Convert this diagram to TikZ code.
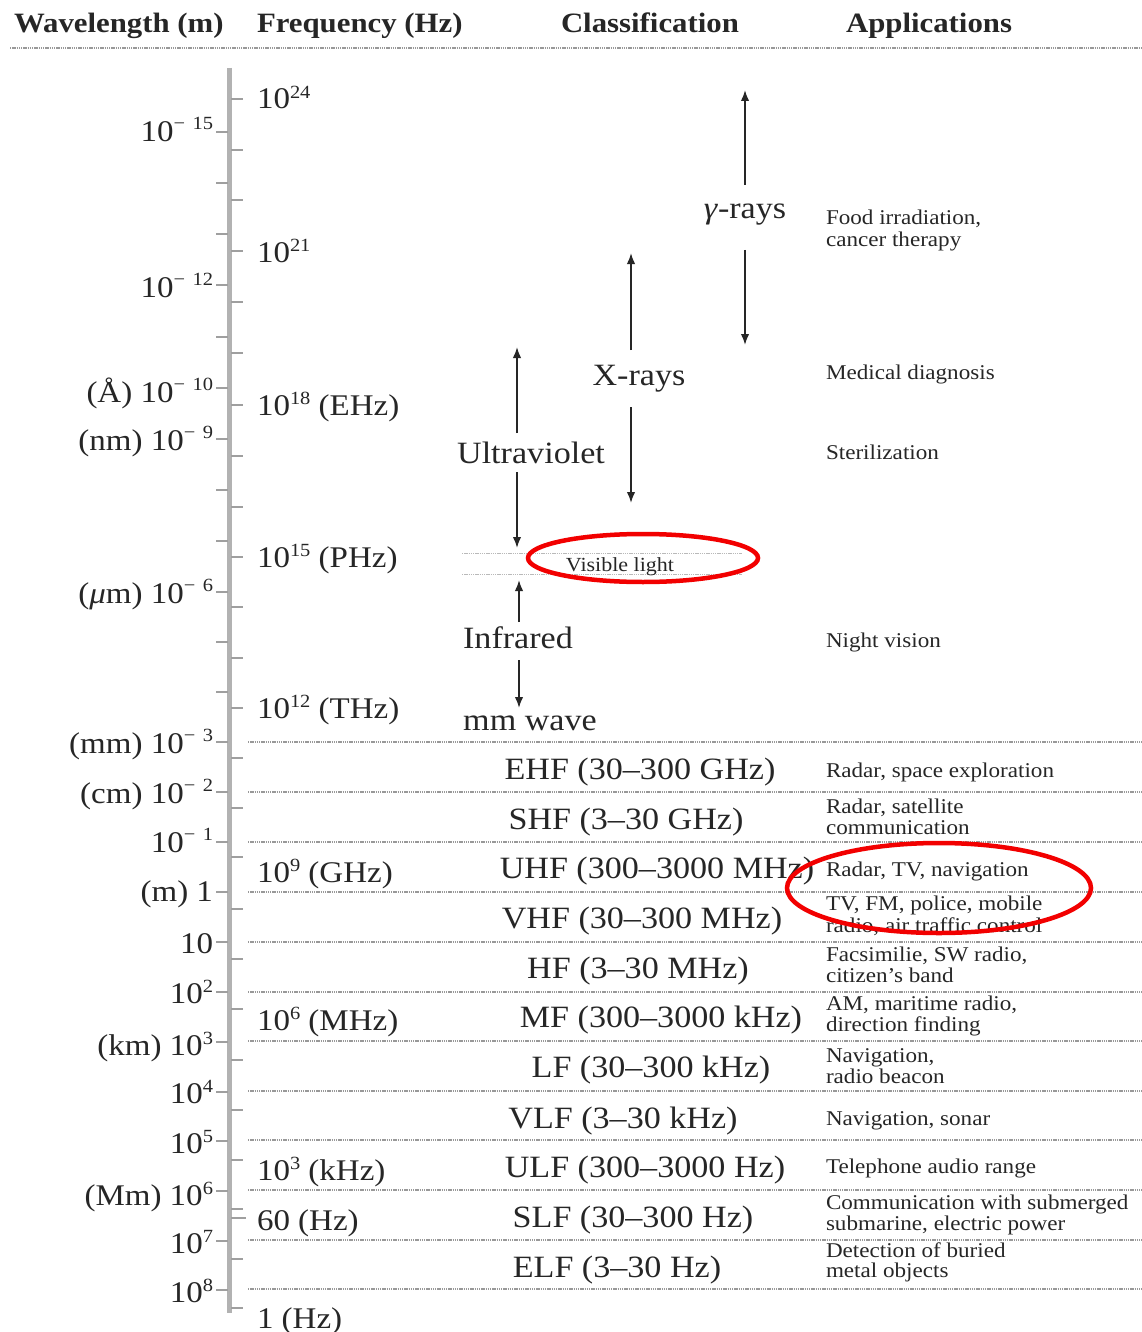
\documentclass[tikz,border=0pt]{standalone}
\usepackage{fontspec}
\setmainfont{Liberation Serif}[FakeStretch=1.1]
\usetikzlibrary{arrows.meta}
\newcommand\ex[1]{\raisebox{0.36em}{\scalebox{0.62}{#1}}}
\newcommand\nex[1]{\raisebox{0.40em}{\scalebox{0.62}{−\hspace{0.4em}#1}}}
\begin{document}
\begin{tikzpicture}[x=1pt,y=-1pt,
  every node/.style={inner sep=0pt, outer sep=0pt, text=black!85},
  dotline/.style={gray!80, line width=1.1pt, dash pattern=on 1.3pt off 0.9pt},
  visline/.style={gray!55, line width=1pt, dash pattern=on 1.3pt off 0.9pt},
  tick/.style={gray!75, line width=1.2pt},
  hdr/.style={font=\fontsize{28}{32}\selectfont\bfseries, anchor=base west},
  wl/.style={font=\fontsize{30}{34}\selectfont, anchor=base east},
  fq/.style={font=\fontsize{30}{34}\selectfont, anchor=base west},
  cls/.style={font=\fontsize{31}{36}\selectfont, anchor=base, text height=22pt, text depth=7pt},
  band/.style={font=\fontsize{31}{36}\selectfont, anchor=base},
  app/.style={font=\fontsize{21}{21}\selectfont, anchor=base west},
  arr/.style={line width=1.8pt, black!85, -{Latex[length=11pt,width=8.5pt]}},
  ring/.style={red!95!black, line width=4.5pt}
]
\useasboundingbox (0,0) rectangle (1142,1332);
\fill[white] (0,0) rectangle (1142,1332);

% headers
\node[hdr] (h1) at (14,33) {Wavelength (m)};
\node[hdr] (h2) at (257,33) {Frequency (Hz)};
\node[hdr] (h3) at (561,33) {Classification};
\node[hdr] (h4) at (846,33) {Applications};
\draw[dotline] (10,48) -- (1142,48);

% axis
\draw[gray!60, line width=5pt] (229.5,68) -- (229.5,1313);
\foreach \y in {132,183,234,285,337,388,439,490,541,592,642,692,742,792,842,892,942,992,1042,1092,1141,1191,1241,1290}
  \draw[tick] (216,\y) -- (228,\y);
\foreach \y in {99,150,200,251,302,353,405,456,507,557,607,658,708,758,808,857,909,959,1009,1060,1110,1160,1209,1259,1308}
  \draw[tick] (231,\y) -- (243,\y);
\draw[tick] (231,1218) -- (246,1218);

% band separator lines
\foreach \y in {742,792,842,892,942,992,1041,1091,1140,1190,1240,1289}
  \draw[dotline] (248,\y) -- (1142,\y);

% wavelength labels
\node[wl] (w1) at (213,142) {10\nex{15}};
\node[wl] (w2) at (213,297) {10\nex{12}};
\node[wl] (w3) at (213,402) {(Å) 10\nex{10}};
\node[wl] (w4) at (213,450) {(nm) 10\nex{9}};
\node[wl] (w5) at (213,603) {(\textit{μ}m) 10\nex{6}};
\node[wl] (w6) at (213,753) {(mm) 10\nex{3}};
\node[wl] (w7) at (213,803) {(cm) 10\nex{2}};
\node[wl] (w8) at (213,852) {10\nex{1}};
\node[wl] (w9) at (213,901) {(m) 1};
\node[wl] (w10) at (213,953) {10};
\node[wl] (w11) at (213,1003) {10\ex{2}};
\node[wl] (w12) at (213,1055) {(km) 10\ex{3}};
\node[wl] (w13) at (213,1103) {10\ex{4}};
\node[wl] (w14) at (213,1153) {10\ex{5}};
\node[wl] (w15) at (213,1205) {(Mm) 10\ex{6}};
\node[wl] (w16) at (213,1253) {10\ex{7}};
\node[wl] (w17) at (213,1302) {10\ex{8}};

% frequency labels
\node[fq] (f1) at (257,109) {10\ex{24}};
\node[fq] (f2) at (257,262) {10\ex{21}};
\node[fq] (f3) at (257,415) {10\ex{18} (EHz)};
\node[fq] (f4) at (257,567) {10\ex{15} (PHz)};
\node[fq] (f5) at (257,718) {10\ex{12} (THz)};
\node[fq] (f6) at (257,882) {10\ex{9} (GHz)};
\node[fq] (f7) at (257,1030) {10\ex{6} (MHz)};
\node[fq] (f8) at (257,1180) {10\ex{3} (kHz)};
\node[fq] (f9) at (257,1230) {60 (Hz)};
\node[fq] (f10) at (257,1328) {1 (Hz)};

% classification (optical part)
\node[cls] (gam) at (745,219) {\textit{γ}-rays};
\coordinate (gTop) at (745,90);
\coordinate (gBot) at (745,345);
\draw[arr, shorten <=12pt] (gam.north) -- (gTop);
\draw[arr, shorten <=24pt] (gam.south) -- (gBot);

\node[cls] (xr) at (639,385) {X-rays};
\coordinate (xTop) at (631,253);
\coordinate (xBot) at (631,503);
\draw[arr, shorten <=13pt] (xr.north -| xTop) -- (xTop);
\draw[arr, shorten <=15pt] (xr.south -| xBot) -- (xBot);

\node[cls] (uv) at (531,463) {Ultraviolet};
\coordinate (uvTop) at (517,347);
\coordinate (uvBot) at (517,548);
\draw[arr, shorten <=8pt] (uv.north -| uvTop) -- (uvTop);
\draw[arr, shorten <=2pt] (uv.south -| uvBot) -- (uvBot);

\draw[visline] (462,553) -- (742,553);
\draw[visline] (462,574) -- (742,574);
\node[font=\fontsize{20}{22}\selectfont, anchor=base] (vis) at (620,571) {Visible light};

\node[cls] (ir) at (518,648) {Infrared};
\coordinate (irTop) at (519,580);
\coordinate (irBot) at (519,708);
\draw[arr, shorten <=4pt] (ir.north -| irTop) -- (irTop);
\draw[arr, shorten <=5pt] (ir.south -| irBot) -- (irBot);

\node[cls] (mmw) at (530,730) {mm wave};

% radio bands
\node[band] (b1) at (640,779) {EHF (30–300 GHz)};
\node[band] (b2) at (626,829) {SHF (3–30 GHz)};
\node[band] (b3) at (657,878) {UHF (300–3000 MHz)};
\node[band] (b4) at (642,928) {VHF (30–300 MHz)};
\node[band] (b5) at (638,978) {HF (3–30 MHz)};
\node[band] (b6) at (661,1027) {MF (300–3000 kHz)};
\node[band] (b7) at (651,1077) {LF (30–300 kHz)};
\node[band] (b8) at (623,1128) {VLF (3–30 kHz)};
\node[band] (b9) at (645,1177) {ULF (300–3000 Hz)};
\node[band] (b10) at (633,1227) {SLF (30–300 Hz)};
\node[band] (b11) at (617,1277) {ELF (3–30 Hz)};

% applications
\node[app] (a1) at (826,225) {Food irradiation,};
\node[app] (a1b) at (826,247) {cancer therapy};
\node[app] (a2) at (826,379) {Medical diagnosis};
\node[app] (a3) at (826,459) {Sterilization};
\node[app] (a4) at (826,647) {Night vision};
\node[app] (a5) at (826,777) {Radar, space exploration};
\node[app] (a6) at (826,813) {Radar, satellite};
\node[app] (a6b) at (826,834) {communication};
\node[app] (a7) at (826,876) {Radar, TV, navigation};
\node[app] (a8) at (826,910) {TV, FM, police, mobile};
\node[app] (a8b) at (826,932) {radio, air traffic control};
\node[app] (a9) at (826,961) {Facsimilie, SW radio,};
\node[app] (a9b) at (826,982) {citizen’s band};
\node[app] (a10) at (826,1010) {AM, maritime radio,};
\node[app] (a10b) at (826,1031) {direction finding};
\node[app] (a11) at (826,1062) {Navigation,};
\node[app] (a11b) at (826,1083) {radio beacon};
\node[app] (a12) at (826,1125) {Navigation, sonar};
\node[app] (a13) at (826,1173) {Telephone audio range};
\node[app] (a14) at (826,1209) {Communication with submerged};
\node[app] (a14b) at (826,1230) {submarine, electric power};
\node[app] (a15) at (826,1257) {Detection of buried};
\node[app] (a15b) at (826,1277) {metal objects};

% red highlight rings
\draw[ring] (643,558) ellipse [x radius=115pt, y radius=24pt];
\draw[ring] (939,888) ellipse [x radius=152pt, y radius=45pt];
\end{tikzpicture}
\end{document}
